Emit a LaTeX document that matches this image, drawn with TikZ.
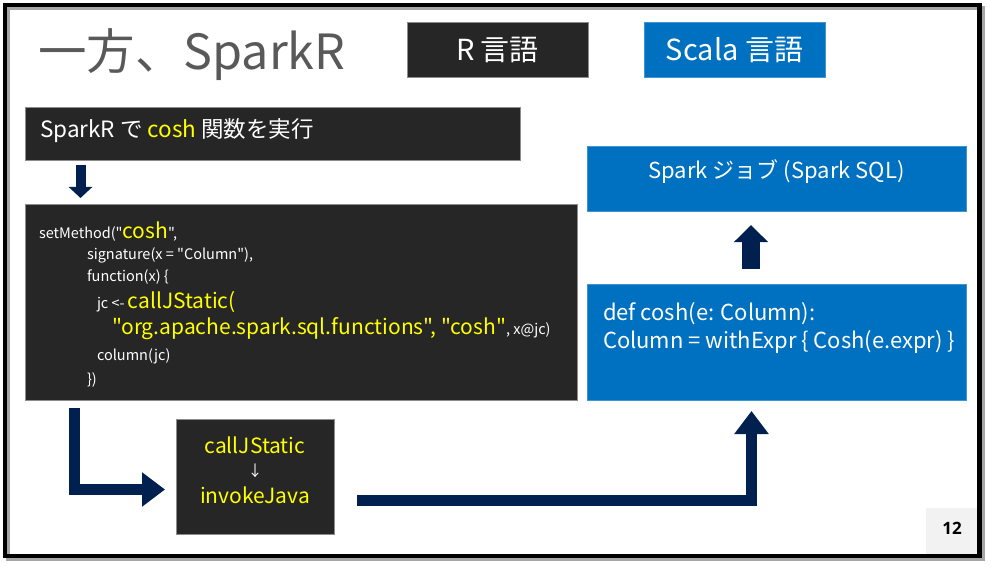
\documentclass[tikz,border=0pt]{standalone}
\usepackage{fontspec}
\setmainfont{Noto Sans CJK JP}[Ligatures=TeXOff]
\newfontfamily\pagefont{Open Sans}
\usetikzlibrary{arrows.meta,calc,positioning}
\definecolor{Slate}{HTML}{262626}
\definecolor{Azure}{HTML}{0070C0}
\definecolor{Navy}{HTML}{002050}
\definecolor{Lemon}{HTML}{FFFF00}
\definecolor{TitleGray}{HTML}{595959}
\definecolor{PageGray}{HTML}{F2F2F2}
\newcommand{\fsz}[1]{\fontsize{#1}{#1}\selectfont}
\begin{document}
\begin{tikzpicture}[x=1pt,y=-1pt,every node/.style={inner sep=0pt,outer sep=0pt,text=white},darkbox/.style={fill=Slate,draw=black!45,line width=0.6pt,anchor=north west},bluebox/.style={fill=Azure,draw=Azure!75!white,line width=0.6pt,anchor=north west},flow/.style={draw=Navy,line width=11pt,-{Triangle[length=23pt,width=33pt]}},hi/.style={text=Lemon},codeline/.style={anchor=base west}]
\useasboundingbox (0,0) rectangle (991,567);
\fill[white] (0,0) rectangle (991,567);
\fill[PageGray] (926,508) rectangle (979,555);
\draw[black!35,line width=4pt] (8,8) rectangle (982.5,559);
\draw[black,line width=4.5pt] (5,5) rectangle (979.5,556);
\node[anchor=base west,text=TitleGray] (title) at (38,70) {\fsz{48.5}一方、SparkR};
\node[darkbox,minimum width=181pt,minimum height=55pt] (rlang) at (407,22) {\fsz{29}R 言語};
\node[bluebox,minimum width=181pt,minimum height=55pt] (scala) at (644,22) {\fsz{29}Scala 言語};
\node[darkbox,minimum width=495pt,minimum height=53pt] (run) at (25,107) {};
\node[anchor=base west] (runtext) at (40,138) {\fsz{22.5}SparkR で \textcolor{Lemon}{cosh} 関数を実行};
\node[darkbox,minimum width=552pt,minimum height=196pt] (code) at (25,204) {};
% R source of the method
\node[codeline] (code1) at (39,238) {\fsz{14.5}setMethod("\textcolor{Lemon}{\fsz{21}cosh}",};
\node[codeline] (code2) at (87,259) {\fsz{14.5}signature(x = "Column"),};
\node[codeline] (code3) at (87,281) {\fsz{14.5}function(x) \{};
\node[codeline] (code4) at (97,308) {\fsz{14.5}jc <- \textcolor{Lemon}{\fsz{21}callJStatic(}};
\node[codeline] (code5) at (112,334) {\textcolor{Lemon}{\fsz{21}"org.apache.spark.sql.functions", "cosh"}\fsz{14.5}, x@jc)};
\node[codeline] (code6) at (97,360) {\fsz{14.5}column(jc)};
\node[codeline] (code7) at (87,384) {\fsz{14.5}\})};
\node[darkbox,minimum width=158pt,minimum height=115pt] (call) at (176,419) {};
\node[anchor=base,hi] (calltext) at ($(call.north)+(0,34)$) {\fsz{21}callJStatic};
\node (callarrow) at ($(call.north)+(0,52)$) {\fsz{15}↓};
\node[anchor=base,hi] (invtext) at ($(call.north)+(0,84)$) {\fsz{21}invokeJava};
\node[bluebox,minimum width=379pt,minimum height=65pt] (job) at (587,146) {};
\node (jobtext) at ($(job.north)+(0,26)$) {\fsz{22}Spark ジョブ (Spark SQL)};
\node[bluebox,minimum width=379pt,minimum height=116pt] (def) at (587,284) {};
\node[anchor=base west] (def1) at (603,320) {\fsz{22}def cosh(e: Column):};
\node[anchor=base west] (def2) at (603,348) {\fsz{22}Column = withExpr \{ Cosh(e.expr) \}};
\node[text=black] (page) at (952,528) {\pagefont\bfseries\fsz{17}12};
% arrows
\draw[flow,line width=10pt,-{Triangle[length=11pt,width=23pt]}] ($(run.south west)+(55.5,5)$) -- ($(code.north west)+(55.5,-6)$);
\draw[flow] ($(code.south west)+(49.5,8)$) |- ($(call.south west)+(-11,-44.5)$);
\draw[flow] ($(call.south east)+(23,-33.5)$) -| ($(def.south west)+(164.5,11)$);
\draw[flow,line width=18pt,-{Triangle[length=17pt,width=33pt]}] ($(def.north west)+(164,-15)$) -- ($(job.south west)+(164,14)$);
\end{tikzpicture}
\end{document}
